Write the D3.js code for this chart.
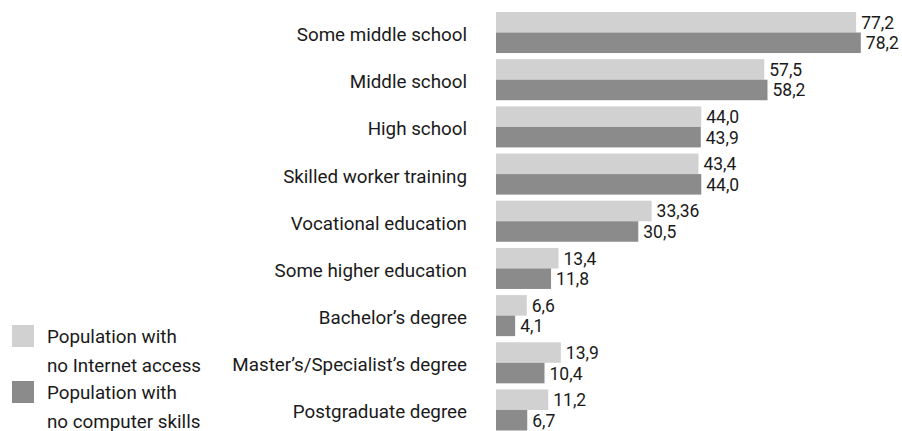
<!DOCTYPE html>
<html>
<head>
<meta charset="utf-8">
<script src="https://cdn.jsdelivr.net/npm/d3@7/dist/d3.min.js"></script>
<style>
  html, body { margin: 0; padding: 0; background: #fff; }
  svg { display: block; }
  text { font-family: Roboto, "Liberation Sans", sans-serif; fill: #1a1a1a; }
</style>
</head>
<body>
<svg id="chart" width="902" height="431"></svg>
<script>
// Education levels, top to bottom
const categories = [
  "Some middle school",
  "Middle school",
  "High school",
  "Skilled worker training",
  "Vocational education",
  "Some higher education",
  "Bachelor’s degree",
  "Master’s/Specialist’s degree",
  "Postgraduate degree"
];
// Share of population (%) by education level
const noInternet = [77.2, 57.5, 44.0, 43.4, 33.36, 13.4, 6.6, 13.9, 11.2];
const noInternetLabels = ["77,2", "57,5", "44,0", "43,4", "33,36", "13,4", "6,6", "13,9", "11,2"];
const noSkills = [78.2, 58.2, 43.9, 44.0, 30.5, 11.8, 4.1, 10.4, 6.7];
const noSkillsLabels = ["78,2", "58,2", "43,9", "44,0", "30,5", "11,8", "4,1", "10,4", "6,7"];
const seriesNames = [
  ["Population with", "no Internet access"],
  ["Population with", "no computer skills"]
];
const colors = ["#d0d1d0", "#8b8b8b"];

const svg = d3.select("#chart");

const x = d3.scaleLinear().domain([0, 80]).range([496, 496 + 80 * 4.665]);
const y = d3.scaleBand().domain(categories).range([12, 430.5]).paddingInner(0.13).paddingOuter(0);
const sub = d3.scaleBand().domain([0, 1]).range([0, y.bandwidth()]).padding(0);

const series = [
  { values: noInternet, labels: noInternetLabels },
  { values: noSkills, labels: noSkillsLabels }
];

const groups = svg.selectAll("g.cat")
  .data(categories)
  .join("g")
  .attr("class", "cat")
  .attr("transform", d => `translate(0,${y(d)})`);

// Category labels, right-aligned next to the bars
groups.append("text")
  .attr("x", 467)
  .attr("y", y.bandwidth() / 2 + 8.5)
  .attr("text-anchor", "end")
  .style("font-size", "18.8px")
  .text(d => d);

series.forEach((s, si) => {
  groups.append("rect")
    .attr("x", x(0))
    .attr("y", sub(si))
    .attr("width", (d, i) => x(s.values[i]) - x(0))
    .attr("height", sub.bandwidth())
    .attr("fill", colors[si]);

  groups.append("text")
    .attr("x", (d, i) => x(s.values[i]) + 5)
    .attr("y", sub(si) + sub.bandwidth() / 2 + 6.5)
    .style("font-size", "17.5px")
    .text((d, i) => s.labels[i]);
});

// Legend
const legend = svg.append("g");
const legendTop = [325, 381];
seriesNames.forEach((lines, i) => {
  legend.append("rect")
    .attr("x", 12).attr("y", legendTop[i])
    .attr("width", 22).attr("height", 22)
    .attr("fill", colors[i]);
  lines.forEach((t, li) => {
    legend.append("text")
      .attr("x", 47)
      .attr("y", legendTop[i] + 18 + li * 28.5)
      .style("font-size", "18.8px")
      .text(t);
  });
});
</script>
</body>
</html>
